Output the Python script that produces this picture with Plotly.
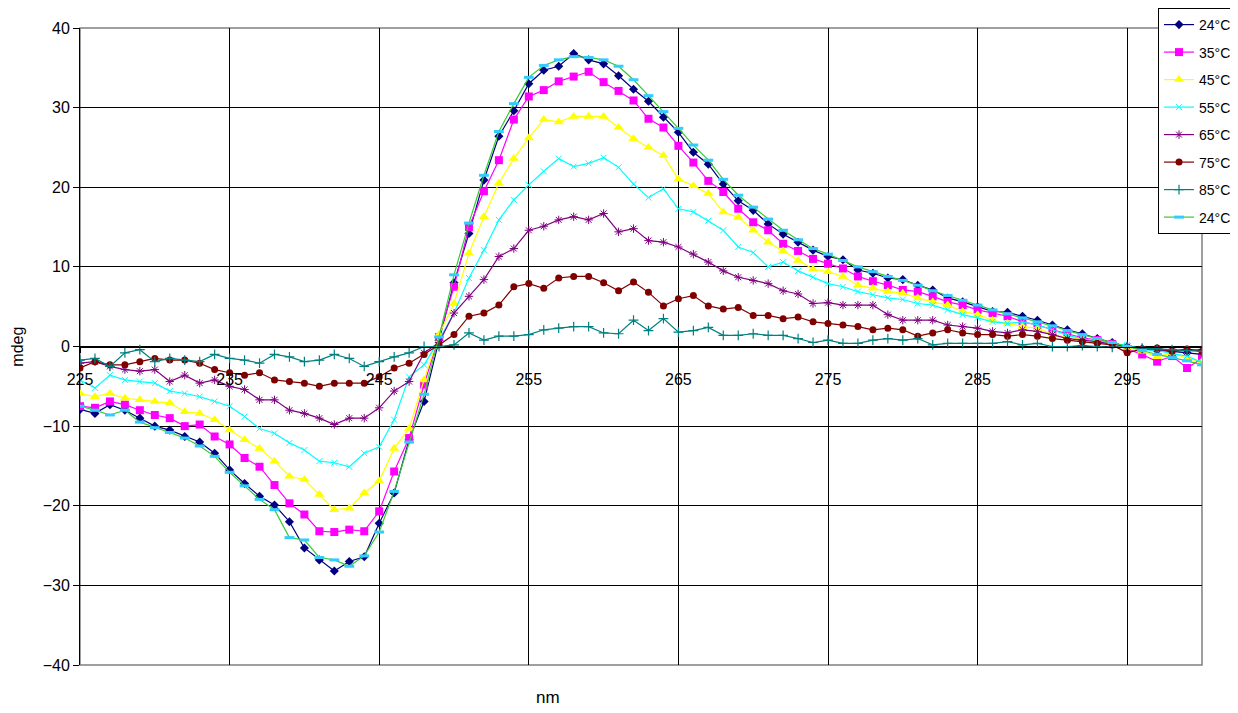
import plotly.graph_objects as go

# wavelength (nm), 1 nm steps
nm = list(range(225, 301))

s24 = [-7.9, -8.4, -7.3, -8.0, -9.0, -10.0, -10.5, -11.3, -12.0, -13.4,
       -15.5, -17.2, -18.8, -19.9, -22.0, -25.3, -26.8, -28.2, -27.0, -26.4,
       -22.2, -18.4, -11.7, -6.9, 0.8, 8.0, 14.2, 20.9, 26.4, 29.6,
       33.0, 34.7, 35.2, 36.8, 36.0, 35.5, 34.0, 32.3, 30.8, 28.8,
       26.9, 24.4, 22.9, 20.4, 18.3, 17.1, 15.4, 14.1, 13.1, 12.1,
       11.3, 10.9, 9.6, 9.2, 8.6, 8.4, 7.7, 7.1, 6.1, 5.6,
       5.0, 4.4, 4.3, 3.8, 3.3, 2.7, 2.1, 1.6, 1.0, 0.5,
       0.0, -0.3, -0.5, -0.6, -0.8, -1.0]

s35 = [-7.5, -7.7, -6.9, -7.3, -8.0, -8.6, -9.0, -10.0, -9.8, -11.3,
       -12.3, -14.0, -15.1, -17.4, -19.7, -21.1, -23.2, -23.3, -23.0, -23.2,
       -20.7, -15.7, -11.5, -4.8, 1.2, 7.5, 15.0, 19.5, 23.4, 28.5,
       31.4, 32.2, 33.3, 33.9, 34.5, 33.2, 32.1, 30.9, 28.6, 27.5,
       25.2, 23.1, 20.8, 19.4, 17.3, 15.6, 14.6, 12.9, 12.0, 11.0,
       10.4, 9.8, 8.8, 8.2, 7.7, 7.1, 6.9, 6.3, 5.6, 5.2,
       4.6, 4.2, 3.8, 3.1, 2.7, 2.1, 1.6, 1.1, 0.8, 0.3,
       -0.3, -1.0, -1.9, -1.2, -2.7, -1.5]

s45 = [-5.9, -6.3, -5.9, -6.5, -6.7, -6.9, -7.1, -8.2, -8.4, -9.2,
       -10.5, -11.7, -12.8, -14.4, -16.3, -16.7, -18.6, -20.5, -20.3, -18.4,
       -16.9, -12.8, -10.3, -4.2, 1.5, 5.4, 11.7, 16.3, 20.5, 23.6,
       26.2, 28.5, 28.2, 28.9, 28.9, 28.9, 27.5, 26.1, 25.0, 24.0,
       21.0, 20.2, 19.2, 16.9, 16.2, 14.6, 13.1, 12.0, 10.8, 9.7,
       9.4, 8.8, 7.7, 7.3, 6.9, 6.7, 6.1, 5.6, 5.2, 4.4,
       4.0, 3.3, 2.9, 2.5, 2.3, 1.5, 1.2, 0.9, 0.7, 0.3,
       -0.2, -0.6, -1.3, -0.8, -1.5, -1.9]

s55 = [-4.2, -5.2, -3.6, -4.2, -4.4, -4.6, -5.6, -5.9, -6.3, -6.9,
       -7.5, -8.8, -10.3, -10.9, -12.1, -13.0, -14.4, -14.6, -15.1, -13.4,
       -12.6, -9.2, -3.8, -2.3, 0.8, 4.2, 8.6, 12.1, 15.9, 18.4,
       20.3, 22.0, 23.6, 22.6, 23.0, 23.7, 22.5, 20.4, 18.7, 19.8,
       17.3, 16.9, 15.8, 14.6, 12.5, 11.8, 10.0, 10.6, 9.5, 8.7,
       7.9, 7.5, 6.9, 6.5, 6.1, 5.9, 5.4, 5.2, 4.6, 4.0,
       3.6, 3.1, 2.9, 3.1, 2.7, 2.1, 1.4, 1.0, 0.6, 0.3,
       0.2, -0.4, -0.5, -0.9, -1.2, -2.0]

s65 = [-2.1, -1.9, -2.5, -2.9, -3.1, -2.9, -4.4, -3.6, -4.6, -4.2,
       -5.0, -5.4, -6.7, -6.7, -8.0, -8.4, -9.0, -9.8, -9.0, -9.0,
       -7.7, -5.6, -4.4, -0.8, 0.5, 4.2, 6.3, 8.4, 11.3, 12.3,
       14.6, 15.1, 15.9, 16.3, 15.9, 16.7, 14.4, 14.8, 13.3, 13.1,
       12.5, 11.6, 10.6, 9.5, 8.7, 8.3, 7.9, 7.0, 6.6, 5.4,
       5.5, 5.2, 5.2, 5.2, 4.0, 3.3, 3.3, 3.3, 2.7, 2.5,
       2.3, 1.9, 1.7, 2.1, 1.9, 1.5, 1.0, 0.8, 0.6, 0.3,
       0.0, -0.3, -0.3, -0.6, -0.5, -0.4]

s75 = [-2.7, -1.9, -2.3, -2.3, -1.9, -1.5, -1.7, -1.7, -2.1, -2.9,
       -3.3, -3.6, -3.3, -4.2, -4.4, -4.6, -5.0, -4.6, -4.6, -4.6,
       -3.8, -2.7, -2.1, -1.0, 0.2, 1.5, 3.8, 4.2, 5.2, 7.5,
       7.9, 7.3, 8.6, 8.8, 8.8, 8.0, 7.0, 8.1, 6.8, 5.1,
       6.0, 6.4, 5.1, 4.7, 4.9, 3.9, 3.9, 3.5, 3.7, 3.1,
       2.9, 2.7, 2.5, 2.1, 2.3, 2.1, 1.3, 1.7, 2.1, 1.7,
       1.5, 1.5, 1.3, 1.5, 1.3, 1.0, 0.8, 0.6, 0.4, 0.2,
       -0.8, -0.3, -0.2, -0.6, -0.3, -0.6]

s85 = [-1.7, -1.5, -2.5, -0.8, -0.4, -1.9, -1.5, -1.7, -1.9, -1.0,
       -1.5, -1.7, -2.1, -1.0, -1.3, -1.9, -1.7, -1.0, -1.5, -2.5,
       -1.9, -1.3, -0.8, 0.0, 0.0, 0.2, 1.7, 0.8, 1.3, 1.3,
       1.5, 2.1, 2.3, 2.5, 2.5, 1.7, 1.6, 3.3, 2.0, 3.5,
       1.8, 2.0, 2.4, 1.4, 1.4, 1.6, 1.4, 1.4, 1.0, 0.5,
       0.8, 0.4, 0.4, 0.8, 1.0, 0.8, 1.0, 0.2, 0.4, 0.4,
       0.4, 0.4, 0.6, 0.2, 0.4, 0.0, 0.0, 0.1, 0.0, -0.1,
       0.0, -0.2, -0.3, -0.4, -0.5, -0.6]

s24b = [-7.5, -8.0, -8.6, -8.0, -9.5, -10.2, -10.8, -11.5, -12.5, -13.8,
        -15.8, -17.5, -19.2, -20.5, -24.0, -24.3, -26.5, -26.8, -27.6, -26.3,
        -23.3, -18.2, -12.0, -6.0, 1.2, 9.0, 15.5, 21.5, 27.0, 30.5,
        33.8, 35.3, 36.0, 36.4, 36.3, 36.0, 35.2, 33.5, 31.5, 29.5,
        27.4, 25.3, 23.4, 21.0, 19.0, 17.5, 16.0, 14.6, 13.4, 12.3,
        11.6, 10.8, 10.0, 9.4, 8.8, 8.3, 7.7, 7.0, 6.4, 5.8,
        5.2, 4.6, 4.1, 3.6, 3.1, 2.6, 2.0, 1.5, 1.0, 0.5,
        0.0, -0.5, -1.0, -1.4, -1.8, -2.3]

x_ticks = [225, 235, 245, 255, 265, 275, 285, 295]
y_ticks = [-40, -30, -20, -10, 0, 10, 20, 30, 40]

FONT = "Liberation Sans, Arial, sans-serif"

series = [
    ("24°C", s24, "#000080", dict(symbol="diamond", size=7, color="#000080")),
    ("35°C", s35, "#FF00FF", dict(symbol="square", size=8, color="#FF00FF")),
    ("45°C", s45, "#FFFF00", dict(symbol="triangle-up", size=9, color="#FFFF00")),
    ("55°C", s55, "#00FFFF", dict(symbol="x-thin-open", size=6, color="#00FFFF",
                                   line=dict(color="#00FFFF", width=1))),
    ("65°C", s65, "#800080", dict(symbol="asterisk-open", size=7, color="#800080",
                                   line=dict(color="#800080", width=1))),
    ("75°C", s75, "#800000", dict(symbol="circle", size=7, color="#800000")),
    ("85°C", s85, "#008080", dict(symbol="cross-thin-open", size=7, color="#008080",
                                   line=dict(color="#008080", width=1.2))),
    ("24°C", s24b, "#33CC33", dict(symbol="line-ew-open", size=7, color="#33CCFF",
                                    line=dict(color="#33CCFF", width=3))),
]

fig = go.Figure()
for i, (name, ys, col, mk) in enumerate(series):
    fig.add_trace(go.Scatter(
        x=nm, y=ys, name=name, mode="lines+markers",
        line=dict(color=col, width=1.2), marker=mk,
        legendgroup=f"g{i}",
    ))

# page body has an 8px default margin; figure sized so it fits the window
fig.update_layout(
    width=1230, height=705,
    margin=dict(l=72, r=36, t=20, b=48, autoexpand=False),
    paper_bgcolor="white", plot_bgcolor="white",
    font=dict(family=FONT, size=15, color="black"),
    showlegend=True,
    legend=dict(
        x=0.9608, y=1.0314, xanchor="left", yanchor="top",
        bgcolor="white", bordercolor="black", borderwidth=1,
        font=dict(family=FONT, size=14, color="black"),
        tracegroupgap=6.3, itemwidth=30,
    ),
    xaxis=dict(
        range=[225, 300], tickvals=x_ticks, ticktext=[str(v) for v in x_ticks],
        anchor="free", position=0.5,
        showgrid=True, gridcolor="black", gridwidth=1,
        showline=True, linecolor="black", linewidth=1,
        ticks="outside", ticklen=5, tickcolor="black",
        zeroline=False, ticklabelstandoff=13,
        tickfont=dict(family=FONT, size=16, color="black"),
    ),
    yaxis=dict(
        range=[-40, 40], tickvals=y_ticks,
        showgrid=True, gridcolor="black", gridwidth=1,
        showline=True, linecolor="black", linewidth=1,
        ticks="outside", ticklen=6, tickcolor="black",
        zeroline=True, zerolinecolor="black", zerolinewidth=1,
        tickfont=dict(family=FONT, size=16, color="black"),
    ),
    shapes=[dict(type="rect", xref="paper", yref="paper", x0=0, x1=1, y0=0, y1=1,
                 line=dict(color="#808080", width=1.5), layer="below")],
    annotations=[
        dict(text="mdeg", xref="paper", yref="paper", x=-0.056, y=0.5,
             xanchor="center", yanchor="middle", textangle=-90, showarrow=False,
             font=dict(family=FONT, size=16, color="black")),
        dict(text="nm", xref="paper", yref="paper", x=0.417, y=-0.069,
             xanchor="center", yanchor="bottom", showarrow=False,
             font=dict(family=FONT, size=17, color="black")),
    ],
)

fig.write_html("out.html")
